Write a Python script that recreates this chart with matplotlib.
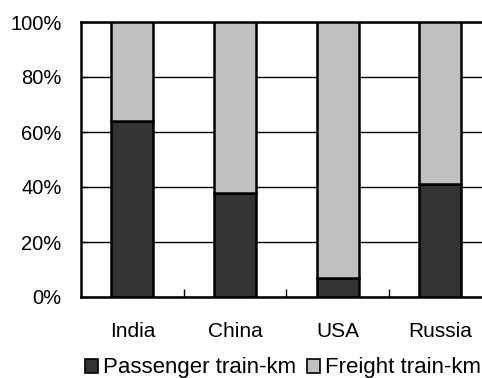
import matplotlib
matplotlib.use("Agg")
import matplotlib.pyplot as plt
from matplotlib.patches import Patch

plt.rcParams['font.family'] = ['Liberation Sans', 'DejaVu Sans']

countries = ["India", "China", "USA", "Russia"]
passenger_pct = [64, 38, 7, 41]
freight_pct = [100 - p for p in passenger_pct]
y_ticks = [0, 20, 40, 60, 80, 100]
y_tick_labels = ["0%", "20%", "40%", "60%", "80%", "100%"]

dark = "#333333"
light = "#c0c0c0"

fig = plt.figure(figsize=(4.82, 3.78), dpi=100)
ax = fig.add_axes([81 / 482, 1 - 297 / 378, (491.5 - 81) / 482, (297 - 22) / 378])

x = range(len(countries))
ax.bar(x, passenger_pct, width=0.41, color=dark, edgecolor="black", linewidth=1.8, zorder=3)
ax.bar(x, freight_pct, bottom=passenger_pct, width=0.41, color=light,
       edgecolor="black", linewidth=1.8, zorder=3)

ax.set_xlim(-0.5, 3.5)
ax.set_ylim(0, 100)
ax.set_yticks(y_ticks)
ax.set_yticklabels(y_tick_labels, fontsize=14.5)
ax.set_xticks(list(x))
ax.set_xticklabels(countries, fontsize=15)
ax.set_xticks([0.5, 1.5, 2.5], minor=True)

ax.tick_params(axis="x", which="major", length=0, pad=18)
ax.tick_params(axis="x", which="minor", direction="in", length=6, width=1, color="black")
ax.tick_params(axis="y", which="major", direction="in", length=4, width=1, pad=14)

ax.yaxis.grid(True, color="black", linewidth=1.0, zorder=0)
ax.set_axisbelow(True)
for side in ["left", "bottom", "top", "right"]:
    ax.spines[side].set_linewidth(1.8)
    ax.spines[side].set_color("black")

handles = [Patch(facecolor=dark, edgecolor="black", linewidth=1.2),
           Patch(facecolor=light, edgecolor="black", linewidth=1.2)]
fig.legend(handles, ["Passenger train-km", "Freight train-km"],
           loc="center", bbox_to_anchor=(283 / 482, 1 - 368 / 378),
           ncol=2, frameon=False, fontsize=16, handlelength=0.6, handleheight=0.6,
           handletextpad=0.25, columnspacing=0.45, borderaxespad=0, borderpad=0)

fig.savefig("out.png", dpi=100)
